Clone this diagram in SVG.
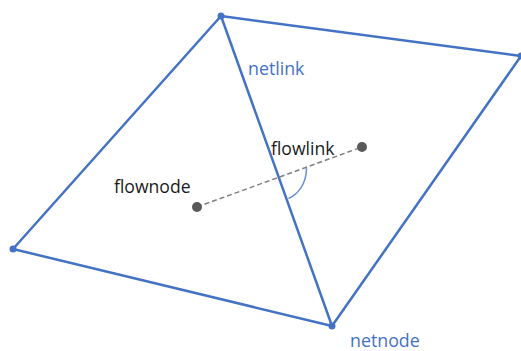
<svg xmlns="http://www.w3.org/2000/svg" width="521" height="351" viewBox="0 0 521 351">
<style>
.net{stroke:#4472C4;stroke-width:2.5;fill:none;stroke-linecap:round;stroke-linejoin:round}
.nn{fill:#4472C4}
.fn{fill:#595959}
.blue{fill:#4472C4;font-family:"Open Sans","Liberation Sans",sans-serif;font-size:17.8px}
.blk{fill:#1a1a1a;font-family:"Open Sans","Liberation Sans",sans-serif;font-size:17.6px}
</style>
<rect width="521" height="351" fill="#ffffff"/>
<g id="connectors">
<path class="net" d="M221,16 L13,249 L332,326 L521,56 Z"/>
<path class="net" d="M221,16 L332,326"/>
<path d="M197,207 L362,147" stroke="#7f7f7f" stroke-width="1.5" stroke-dasharray="5,3" fill="none"/>
<path d="M306.5,168 C306.5,184 298,194 288.5,198.5" stroke="#6a8fd8" stroke-width="1.5" fill="none"/>
</g>
<g id="node-top"><circle class="nn" cx="221" cy="16" r="3.5"/></g>
<g id="node-left"><circle class="nn" cx="13" cy="249" r="3.5"/></g>
<g id="node-bottom"><circle class="nn" cx="332" cy="326" r="3.5"/></g>
<g id="node-right"><circle class="nn" cx="521" cy="56" r="3.5"/></g>
<g id="flownode-1"><circle class="fn" cx="197" cy="207" r="5"/></g>
<g id="flownode-2"><circle class="fn" cx="362" cy="147" r="5"/></g>
<g id="labels">
<text class="blue" x="350" y="346.5" dy="0">netnode</text>
<text class="blue" x="248" y="75">netlink</text>
<text class="blk" x="271" y="155">flowlink</text>
<text class="blk" x="114" y="193">flownode</text>
</g>
</svg>
